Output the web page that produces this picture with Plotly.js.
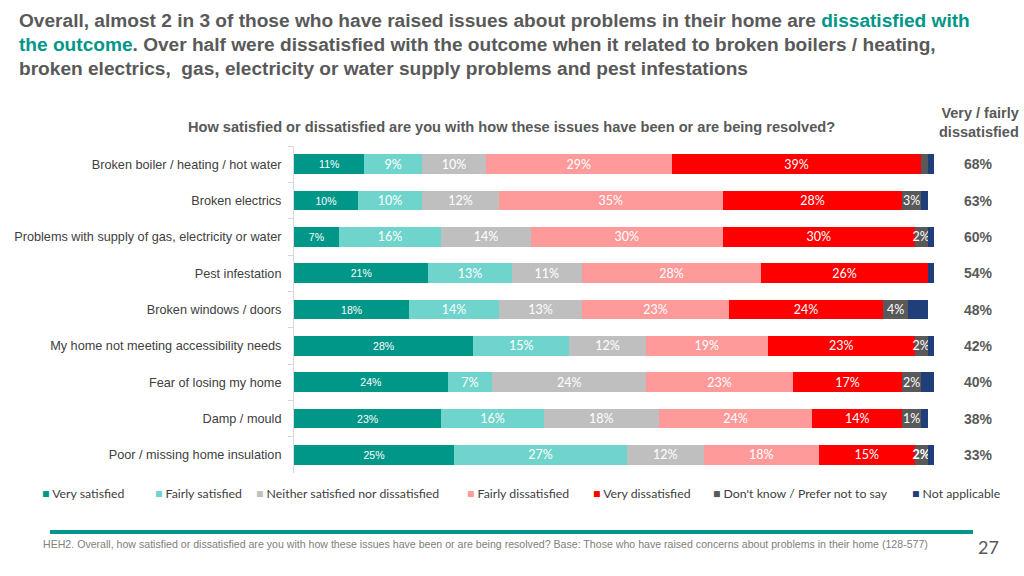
<!DOCTYPE html>
<html><head><meta charset="utf-8">
<script src="https://cdn.plot.ly/plotly-3.0.1.min.js"></script>
<style>html,body{margin:0;padding:0;background:#fff;}#chart{width:1024px;height:576px;}</style>
</head><body><div id="chart"></div>
<script>
const categories = ["Broken boiler / heating / hot water","Broken electrics","Problems with supply of gas, electricity or water","Pest infestation","Broken windows / doors","My home not meeting accessibility needs","Fear of losing my home","Damp / mould","Poor / missing home insulation"];
const veryStatisfied = [11,10,7,21,18,28,24,23,25];
const fairlySatisfied = [9,10,16,13,14,15,7,16,27];
const neither = [10,12,14,11,13,12,24,18,12];
const fairlyDissatisfied = [29,35,30,28,23,19,23,24,18];
const veryDissatisfied = [39,28,30,26,24,23,17,14,15];
const dontKnow = [1,3,2,0,4,2,3,3,2];
const dontKnowLabels = ["","3%","2%","","4%","2%","2%","1%","<b>2%</b>"];
const notApplicable = [1,1,1,1,3,1,2,1,1];
const netDissatisfied = ["68%","63%","60%","54%","48%","42%","40%","38%","33%"];
const seriesNames = ["Very satisfied","Fairly satisfied","Neither satisfied nor dissatisfied","Fairly dissatisfied","Very dissatisfied","Don't know / Prefer not to say","Not applicable"];

const colors = ["#009688","#6fd4cc","#bfbfbf","#ff9a9a","#ff0000","#595959","#203f7a"];
const arial = "Liberation Sans, Arial, sans-serif";
const calib = "Lato, Liberation Sans, sans-serif";
const values = [veryStatisfied,fairlySatisfied,neither,fairlyDissatisfied,veryDissatisfied,dontKnow,notApplicable];

const traces = values.map((v,i)=>{
  let text;
  if (i===5) text = dontKnowLabels;
  else if (i===6) text = v.map(()=> "");
  else text = v.map(x=> x+"%");
  return {
    type:"bar", orientation:"h", name:seriesNames[i], y:categories, x:v,
    marker:{color:colors[i], line:{width:0}},
    text:text, textposition:"inside", insidetextanchor:"middle",
    textangle:0, constraintext:"none", showlegend:false,
    textfont:{color:"#ffffff", size: i===0 ? 10.5 : 12.5, family: i===0 ? arial : calib},
    hoverinfo:"skip"
  };
});

const annotations = [];
categories.forEach((c,i)=>{
  annotations.push({xref:"paper", yref:"y", x:1.0695, y:c, text:"<b>"+netDissatisfied[i]+"</b>", showarrow:false,
    xanchor:"center", font:{family:arial, size:14, color:"#595959"}});
});
annotations.push({xref:"paper", yref:"paper", x:(1021-294)/640, y:(473-122)/327, xanchor:"right", yanchor:"middle", showarrow:false, align:"right",
  text:"<b>Very / fairly<br>dissatisfied</b>", font:{family:arial, size:14.5, color:"#595959"}});
annotations.push({xref:"paper", yref:"paper", x:(511-294)/640, y:(473-127)/327, xanchor:"center", yanchor:"middle", showarrow:false,
  text:"<b>How satisfied or dissatisfied are you with how these issues have been or are being resolved?</b>", font:{family:arial, size:14.6, color:"#595959"}});
// title
const titleFont = {family:arial, size:19.1, color:"#595959"};
const titleLines = [
  "<b>Overall, almost 2 in 3 of those who have raised issues about problems in their home are <span style='color:#009688'>dissatisfied with</span></b>",
  "<b><span style='color:#009688'>the outcome</span>. Over half were dissatisfied with the outcome when it related to broken boilers / heating,</b>",
  "<b>broken electrics,  gas, electricity or water supply problems and pest infestations</b>"
];
titleLines.forEach((t,i)=>{
  annotations.push({xref:"paper", yref:"paper", x:-(294-17)/640, y:(473-20-24*i)/327, xanchor:"left", yanchor:"middle", showarrow:false, align:"left", text:t, font:titleFont});
});
// legend (text entries)
const legendX = [40,153,254,465,591,711,910];
seriesNames.forEach((n,i)=>{
  annotations.push({xref:"paper", yref:"paper", x:(legendX[i]-294)/640, y:(473-493)/327, xanchor:"left", yanchor:"middle", showarrow:false,
    text:"<span style='color:"+colors[i]+"'>■</span> "+n, font:{family:calib, size:12.3, color:"#404040"}});
});
// footnote
annotations.push({xref:"paper", yref:"paper", x:-(294-41)/640, y:-(544-473)/327, xanchor:"left", yanchor:"middle", showarrow:false,
  text:"HEH2. Overall, how satisfied or dissatisfied are you with how these issues have been or are being resolved? Base: Those who have raised concerns about problems in their home (128-577)",
  font:{family:arial, size:10.6, color:"#808080"}});
annotations.push({xref:"paper", yref:"paper", x:(988-294)/640, y:-(547-473)/327, xanchor:"center", yanchor:"middle", showarrow:false,
  text:"27", font:{family:calib, size:18, color:"#595959"}});

const layout = {
  width:1024, height:576,
  margin:{l:294, r:90, t:146, b:103, pad:0},
  barmode:"stack", bargap:0.45,
  paper_bgcolor:"#ffffff", plot_bgcolor:"#ffffff",
  showlegend:false,
  xaxis:{range:[0,100], visible:false, fixedrange:true},
  yaxis:{type:"category", autorange:"reversed", showline:true, linecolor:"#d9d9d9", linewidth:1,
    ticks:"outside", tickson:"boundaries", ticklen:5, tickcolor:"#d9d9d9",
    tickfont:{family:arial, size:12.7, color:"#404040"}, ticklabelstandoff:9, showgrid:false, zeroline:false},
  shapes:[{type:"line", xref:"paper", yref:"paper", x0:-(294-50)/640, x1:(973-294)/640, y0:-(532-473)/327, y1:-(532-473)/327,
    line:{color:"#00968a", width:4}}],
  annotations:annotations
};
Plotly.newPlot("chart", traces, layout, {displayModeBar:false, staticPlot:true});
</script></body></html>
